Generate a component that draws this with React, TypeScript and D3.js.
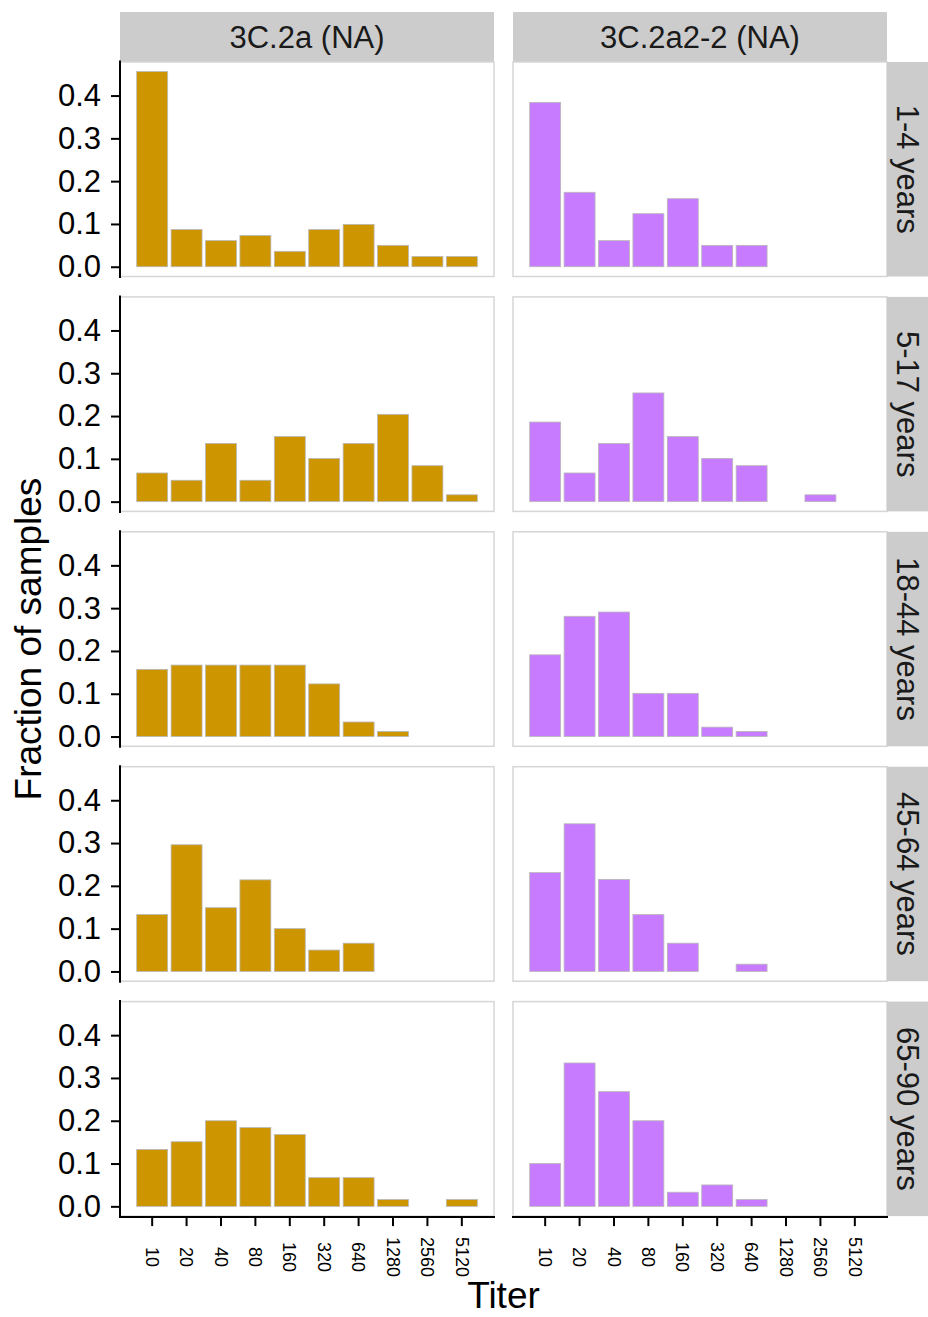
import { axisBottom, axisLeft, format, scaleBand, ScaleBand, scaleLinear, ScaleLinear, select } from "d3";
import { useEffect, useRef } from "react";

const clades = ["3C.2a (NA)", "3C.2a2-2 (NA)"];
const ageGroups = ["1-4 years", "5-17 years", "18-44 years", "45-64 years", "65-90 years"];
const titers = ["10", "20", "40", "80", "160", "320", "640", "1280", "2560", "5120"];
const yTicks = [0, 0.1, 0.2, 0.3, 0.4];
const cladeColors = ["#CD9600", "#C77CFF"];

// fraction of samples per titer, one row per age group
const clade2aFractions = [
  [0.456, 0.087, 0.061, 0.073, 0.036, 0.087, 0.099, 0.05, 0.024, 0.024],
  [0.067, 0.05, 0.136, 0.05, 0.152, 0.101, 0.136, 0.204, 0.084, 0.016],
  [0.157, 0.167, 0.167, 0.167, 0.167, 0.123, 0.034, 0.012, 0, 0],
  [0.133, 0.296, 0.149, 0.214, 0.1, 0.05, 0.066, 0, 0, 0],
  [0.133, 0.151, 0.2, 0.184, 0.168, 0.067, 0.067, 0.016, 0, 0.016],
];
const clade2a2Fractions = [
  [0.384, 0.174, 0.061, 0.124, 0.159, 0.05, 0.05, 0, 0, 0],
  [0.186, 0.067, 0.136, 0.254, 0.152, 0.101, 0.084, 0, 0.016, 0],
  [0.191, 0.281, 0.291, 0.101, 0.101, 0.022, 0.012, 0, 0, 0],
  [0.231, 0.345, 0.215, 0.133, 0.066, 0, 0.017, 0, 0, 0],
  [0.1, 0.335, 0.268, 0.2, 0.033, 0.05, 0.016, 0, 0, 0],
];
const fractions = [clade2aFractions, clade2a2Fractions];

const font = "'Liberation Sans', Arial, Helvetica, sans-serif";
const colX = [120, 513];
const panelW = 374;
const panelH = 214.5;
const rowTop = 62;
const rowStep = 234.9;
const stripTop = 12;
const stripRight = 928;

interface AxisLeftProps {
  scale: ScaleLinear<number, number>;
  transform: string;
}

interface AxisBottomProps {
  scale: ScaleBand<string>;
  transform: string;
}

function AxisLeft({ scale, transform }: AxisLeftProps) {
  const ref = useRef<SVGGElement>(null);

  useEffect(() => {
    if (!ref.current) return;
    const g = select(ref.current);
    g.call(
      axisLeft(scale)
        .tickValues(yTicks)
        .tickFormat(format(".1f"))
        .tickSize(9)
        .tickPadding(10)
    );
    g.select(".domain").remove();
    g.attr("font-size", 31).attr("font-family", font).attr("color", "#000");
    g.selectAll("line").attr("stroke-width", 2);
  }, [scale]);

  return <g ref={ref} transform={transform} />;
}

function AxisBottom({ scale, transform }: AxisBottomProps) {
  const ref = useRef<SVGGElement>(null);

  useEffect(() => {
    if (!ref.current) return;
    const g = select(ref.current);
    g.call(axisBottom(scale).tickSize(9));
    g.select(".domain").remove();
    g.attr("font-size", 18).attr("font-family", font).attr("color", "#000");
    g.selectAll("line").attr("stroke-width", 2);
    g.selectAll("text")
      .attr("x", 0)
      .attr("y", 0)
      .attr("dy", "0.35em")
      .attr("text-anchor", "middle")
      .attr("transform", "translate(0,40) rotate(90)");
  }, [scale]);

  return <g ref={ref} transform={transform} />;
}

export default function App() {
  const x = scaleBand<string>()
    .domain(titers)
    .range([0, panelW])
    .paddingInner(0.1)
    .paddingOuter(0.485);
  const y = scaleLinear().domain([-0.0228, 0.4784]).range([panelH, 0]);
  const lastRowBottom = rowTop + (ageGroups.length - 1) * rowStep + panelH;

  return (
    <svg
      width={928}
      height={1317}
      style={{ position: "absolute", left: 0, top: 0, background: "#fff" }}
      fontFamily={font}
    >
      {clades.map((clade, c) => (
        <g key={clade}>
          <rect x={colX[c]} y={stripTop} width={panelW} height={rowTop - stripTop} fill="#CCCCCC" />
          <text
            x={colX[c] + panelW / 2}
            y={(stripTop + rowTop) / 2}
            dy="0.35em"
            textAnchor="middle"
            fontSize={31}
            fill="#1a1a1a"
          >
            {clade}
          </text>
        </g>
      ))}

      {ageGroups.map((age, r) => {
        const top = rowTop + r * rowStep;
        return (
          <g key={age}>
            {clades.map((clade, c) => (
              <g key={clade} transform={`translate(${colX[c]},${top})`}>
                <rect width={panelW} height={panelH} fill="#fff" stroke="#D6D6D6" strokeWidth={1.5} />
                {fractions[c][r].map((v, i) =>
                  v > 0 ? (
                    <rect
                      key={titers[i]}
                      x={x(titers[i])}
                      y={y(v)}
                      width={x.bandwidth()}
                      height={y(0) - y(v)}
                      fill={cladeColors[c]}
                      stroke="#B8B8B8"
                      strokeWidth={0.8}
                    />
                  ) : null
                )}
              </g>
            ))}
            <rect
              x={colX[1] + panelW}
              y={top}
              width={stripRight - colX[1] - panelW}
              height={panelH}
              fill="#CCCCCC"
            />
            <text
              transform={`translate(${(colX[1] + panelW + stripRight) / 2},${top + panelH / 2}) rotate(90)`}
              dy="0.35em"
              textAnchor="middle"
              fontSize={31}
              fill="#1a1a1a"
            >
              {age}
            </text>
            <AxisLeft scale={y} transform={`translate(${colX[0]},${top})`} />
            <line x1={colX[0]} x2={colX[0]} y1={top - 1.5} y2={top + panelH + 1.5} stroke="#000" strokeWidth={2} />
          </g>
        );
      })}

      {clades.map((clade, c) => (
        <g key={clade}>
          <AxisBottom scale={x} transform={`translate(${colX[c]},${lastRowBottom + 1})`} />
          <line
            x1={colX[c] - 1}
            x2={colX[c] + panelW + 1}
            y1={lastRowBottom + 1}
            y2={lastRowBottom + 1}
            stroke="#000"
            strokeWidth={2}
          />
        </g>
      ))}

      <text
        transform={`translate(28,${(rowTop + lastRowBottom) / 2}) rotate(-90)`}
        dy="0.35em"
        textAnchor="middle"
        fontSize={37}
      >
        Fraction of samples
      </text>
      <text x={(colX[0] + colX[1] + panelW) / 2} y={1308} textAnchor="middle" fontSize={37}>
        Titer
      </text>
    </svg>
  );
}
